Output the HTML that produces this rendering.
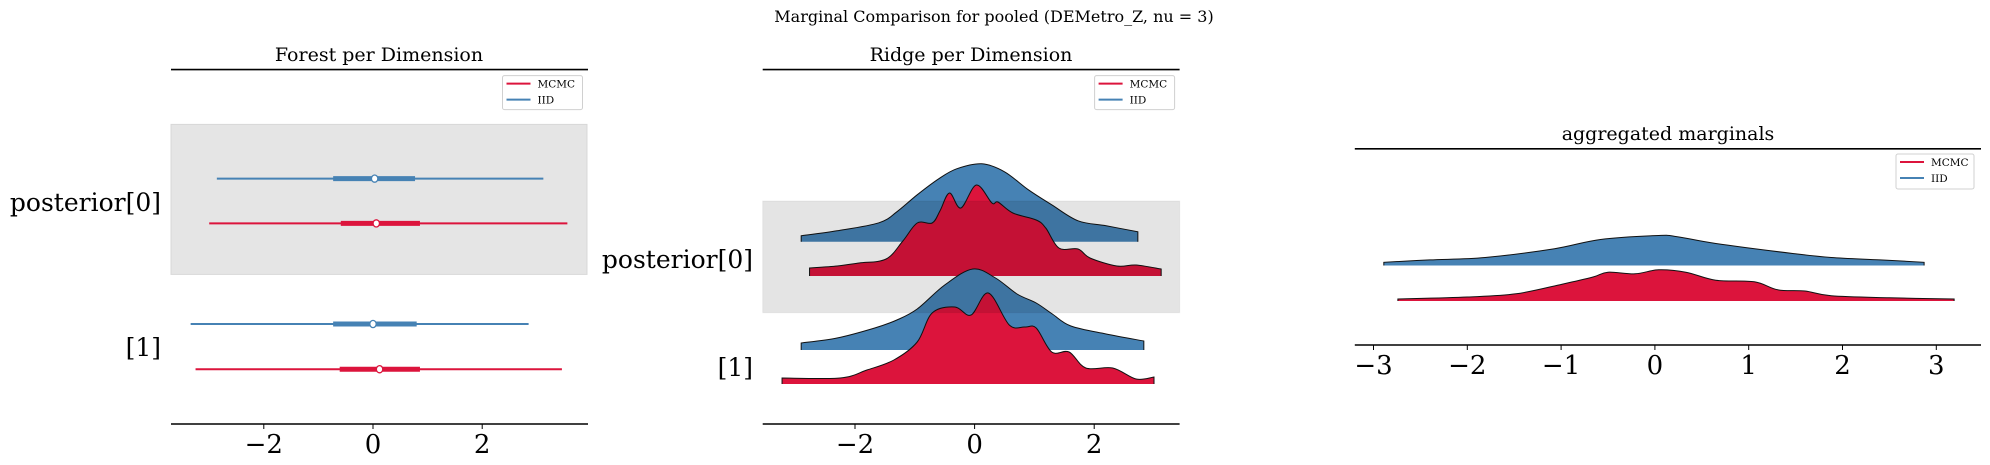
<!DOCTYPE html>
<html><head><meta charset="utf-8"><style>
html,body{margin:0;padding:0;background:#fff;}
svg{display:block;font-family:"DejaVu Serif","Liberation Serif",serif;}
</style></head><body>
<svg id="fig" width="1990" height="465" viewBox="0 0 1990 465" xmlns="http://www.w3.org/2000/svg">
<text x="994" y="22" font-size="16" text-anchor="middle">Marginal Comparison for pooled (DEMetro_Z, nu = 3)</text>
<g id="p1"></g>
<g id="p2"></g>
<g id="p3"></g>
</svg>
<script>
// ---- data ----
const forestLabels = ["posterior[0]", "[1]"];
const forestIID_lo = [-2.86, -3.34];
const forestIID_hi = [3.12, 2.85];
const forestIID_q1 = [-0.73, -0.73];
const forestIID_q3 = [0.77, 0.80];
const forestIID_med = [0.03, 0.0];
const forestMCMC_lo = [-3.0, -3.25];
const forestMCMC_hi = [3.56, 3.46];
const forestMCMC_q1 = [-0.59, -0.61];
const forestMCMC_q3 = [0.86, 0.86];
const forestMCMC_med = [0.06, 0.12];
const forestTicks = [-2, 0, 2];

const ridgeIID0_x = [-2.9,-2.3,-1.6,-1.3,-0.96,-0.6,-0.3,0.12,0.5,0.9,1.29,1.73,2.2,2.73];
const ridgeIID0_y = [0.03,0.055,0.095,0.15,0.235,0.315,0.365,0.39,0.35,0.26,0.185,0.105,0.08,0.05];
const ridgeMCMC0_x = [-2.76,-2.3,-1.93,-1.48,-1.2,-0.96,-0.71,-0.58,-0.42,-0.23,0.03,0.29,0.39,0.64,1.03,1.19,1.41,1.73,1.93,2.38,2.7,3.12];
const ridgeMCMC0_y = [0.04,0.05,0.065,0.085,0.175,0.265,0.265,0.325,0.415,0.34,0.455,0.365,0.37,0.315,0.28,0.24,0.14,0.135,0.09,0.05,0.055,0.035];
const ridgeIID1_x = [-2.9,-2.3,-1.67,-1.3,-0.96,-0.5,-0.03,0.35,0.71,1.03,1.3,1.61,2.2,2.83];
const ridgeIID1_y = [0.035,0.06,0.11,0.15,0.205,0.325,0.405,0.36,0.28,0.235,0.18,0.12,0.08,0.045];
const ridgeMCMC1_x = [-3.22,-2.25,-1.8,-1.35,-0.96,-0.71,-0.33,-0.06,0.23,0.58,0.84,1.03,1.29,1.58,1.86,2.31,2.7,3.0];
const ridgeMCMC1_y = [0.03,0.03,0.07,0.12,0.21,0.355,0.385,0.345,0.455,0.295,0.285,0.28,0.16,0.16,0.08,0.08,0.025,0.035];
const ridgeTicks = [-2, 0, 2];

const aggIID_x = [-2.89,-2.4,-1.81,-1.07,-0.58,0.04,0.24,0.65,1.47,1.88,2.4,2.87];
const aggIID_y = [0.04,0.07,0.1,0.21,0.325,0.375,0.36,0.275,0.15,0.1,0.07,0.04];
const aggMCMC_x = [-2.74,-2.0,-1.48,-0.99,-0.66,-0.5,-0.21,0.04,0.33,0.65,1.06,1.31,1.6,1.88,2.5,3.19];
const aggMCMC_y = [0.025,0.05,0.09,0.21,0.3,0.36,0.34,0.39,0.36,0.26,0.24,0.14,0.125,0.065,0.04,0.025];
const aggTicks = [-3, -2, -1, 0, 1, 2, 3];

// ---- helpers ----
const NS = "http://www.w3.org/2000/svg";
const RED = "#dc143c", BLUE = "#4682b4";
function mk(parent, tag, attrs) {
  const e = document.createElementNS(NS, tag);
  for (const k in attrs) e.setAttribute(k, attrs[k]);
  parent.appendChild(e);
  return e;
}
function smoothPath(pts) {
  let d = "M" + pts[0][0] + "," + pts[0][1];
  for (let i = 0; i < pts.length - 1; i++) {
    const p0 = pts[Math.max(0, i - 1)], p1 = pts[i], p2 = pts[i + 1], p3 = pts[Math.min(pts.length - 1, i + 2)];
    const c1x = p1[0] + (p2[0] - p0[0]) / 6, c1y = p1[1] + (p2[1] - p0[1]) / 6;
    const c2x = p2[0] - (p3[0] - p1[0]) / 6, c2y = p2[1] - (p3[1] - p1[1]) / 6;
    d += " C" + c1x + "," + c1y + " " + c2x + "," + c2y + " " + p2[0] + "," + p2[1];
  }
  return d;
}
function axisFrame(g, x0, x1, top, bottom, xs, ticks, labelY) {
  const ts = mk(g, "line", {x1: x0, x2: x1, y1: top, y2: top, stroke: "#000", "stroke-width": 1.6});
  
  
  const bs = mk(g, "line", {x1: x0, x2: x1, y1: bottom, y2: bottom, stroke: "#000", "stroke-width": 1.6});
  
  
  ticks.forEach(t => {
    const tl = mk(g, "line", {x1: xs(t), x2: xs(t), y1: bottom, y2: bottom + 5, stroke: "#000", "stroke-width": 1});
    
    
    const tx = mk(g, "text", {x: xs(t), y: labelY, "font-size": 26, "text-anchor": "middle"});
    tx.textContent = (t < 0 ? "\u2212" + (-t) : String(t));
    
    
  });
}
function title(g, x, y, s) {
  const t = mk(g, "text", {x: x, y: y, "font-size": 19, "text-anchor": "middle"});
  t.textContent = s;
  
  
}
function legend(g, x, y, w, h) {
  const lg = mk(g, "g", {});
  
  
  mk(lg, "rect", {x: x, y: y, width: w, height: h, rx: 2, fill: "#fff", stroke: "#d0d0d0", "stroke-width": 1});
  [["MCMC", RED, 8], ["IID", BLUE, 24]].forEach(([n, c, dy]) => {
    const e = mk(lg, "g", {});
    
    
    mk(e, "line", {x1: x + 4, x2: x + 28, y1: y + dy, y2: y + dy, stroke: c, "stroke-width": 2});
    const t = mk(e, "text", {x: x + 35, y: y + dy + 4, "font-size": 10.5});
    t.textContent = n;
  });
}
function ylabel(g, x, y, s) {
  const t = mk(g, "text", {x: x, y: y, "font-size": 25, "text-anchor": "end"});
  t.textContent = s;
  
  
}

// ---- panel 1: forest ----
(function () {
  const g = document.getElementById("p1");
  const xs = v => 373 + v * 54.6;
  const band = mk(g, "rect", {x: 171, y: 124.4, width: 416, height: 150, fill: "#e5e5e5", stroke: "#d8d8d8"});
  
  
  axisFrame(g, 171, 588, 69.6, 424, xs, forestTicks, 453);
  title(g, 379, 61, "Forest per Dimension");
  const rowsIID = [178.6, 324], rowsMCMC = [223.4, 369.2], labY = [211, 356];
  forestLabels.forEach((lab, i) => {
    ylabel(g, 161, labY[i], lab);
    [[forestIID_lo, forestIID_hi, forestIID_q1, forestIID_q3, forestIID_med, rowsIID[i], BLUE, "iid"],
     [forestMCMC_lo, forestMCMC_hi, forestMCMC_q1, forestMCMC_q3, forestMCMC_med, rowsMCMC[i], RED, "mcmc"]]
    .forEach(([lo, hi, q1, q3, md, y, c, n]) => {
      const s = mk(g, "g", {});
      
      
      mk(s, "line", {x1: xs(lo[i]), x2: xs(hi[i]), y1: y, y2: y, stroke: c, "stroke-width": 2});
      mk(s, "line", {x1: xs(q1[i]), x2: xs(q3[i]), y1: y, y2: y, stroke: c, "stroke-width": 5});
      mk(s, "ellipse", {cx: xs(md[i]), cy: y, rx: 3.2, ry: 3.6, fill: "#fff", stroke: c, "stroke-width": 1.3});
    });
  });
  legend(g, 502.5, 75.6, 80, 34);
})();

// ---- panel 2: ridge ----
(function () {
  const g = document.getElementById("p2");
  const xs = v => 974.6 + v * 59.8;
  const sc = 200;
  axisFrame(g, 762.7, 1179.6, 69.6, 424, xs, ridgeTicks, 453);
  title(g, 971, 61, "Ridge per Dimension");
  ylabel(g, 753, 268, "posterior[0]");
  ylabel(g, 753, 376, "[1]");
  const series = [
    [ridgeIID0_x, ridgeIID0_y, 241.8, BLUE, "ridge-iid-0"],
    [ridgeMCMC0_x, ridgeMCMC0_y, 276, RED, "ridge-mcmc-0"],
    [ridgeIID1_x, ridgeIID1_y, 350, BLUE, "ridge-iid-1"],
    [ridgeMCMC1_x, ridgeMCMC1_y, 384, RED, "ridge-mcmc-1"]];
  series.forEach(([X, Y, base, c, n]) => {
    const pts = X.map((v, k) => [xs(v), base - Y[k] * sc]);
    const top = smoothPath(pts);
    const s = mk(g, "g", {});
    
    
    mk(s, "path", {d: top + " L" + xs(X[X.length - 1]) + "," + base + " L" + xs(X[0]) + "," + base + " Z", fill: c});
    mk(s, "path", {d: "M" + xs(X[0]) + "," + base + " L" + pts[0][0] + "," + pts[0][1] + top.replace(/^M[^ ]+/, "") + " L" + xs(X[X.length - 1]) + "," + base, fill: "none", stroke: "#111", "stroke-width": 1});
  });
  const band = mk(g, "rect", {x: 762.7, y: 201, width: 417, height: 111.7, fill: "rgba(0,0,0,0.105)", stroke: "rgba(0,0,0,0.05)"});
  
  
  legend(g, 1094.6, 75.6, 80, 34);
})();

// ---- panel 3: aggregated ----
(function () {
  const g = document.getElementById("p3");
  const xs = v => 1654.9 + v * 93.8;
  const sc = 80;
  axisFrame(g, 1354.8, 1981, 148.8, 345, xs, aggTicks, 374);
  title(g, 1668, 140, "aggregated marginals");
  [[aggIID_x, aggIID_y, 265.5, BLUE, "agg-iid"], [aggMCMC_x, aggMCMC_y, 301, RED, "agg-mcmc"]]
  .forEach(([X, Y, base, c, n]) => {
    const pts = X.map((v, k) => [xs(v), base - Y[k] * sc]);
    const top = smoothPath(pts);
    const s = mk(g, "g", {});
    
    
    mk(s, "path", {d: top + " L" + xs(X[X.length - 1]) + "," + base + " L" + xs(X[0]) + "," + base + " Z", fill: c});
    mk(s, "path", {d: "M" + xs(X[0]) + "," + base + " L" + pts[0][0] + "," + pts[0][1] + top.replace(/^M[^ ]+/, "") + " L" + xs(X[X.length - 1]) + "," + base, fill: "none", stroke: "#111", "stroke-width": 1});
  });
  legend(g, 1896, 154, 78, 35);
})();
</script>
</body></html>
